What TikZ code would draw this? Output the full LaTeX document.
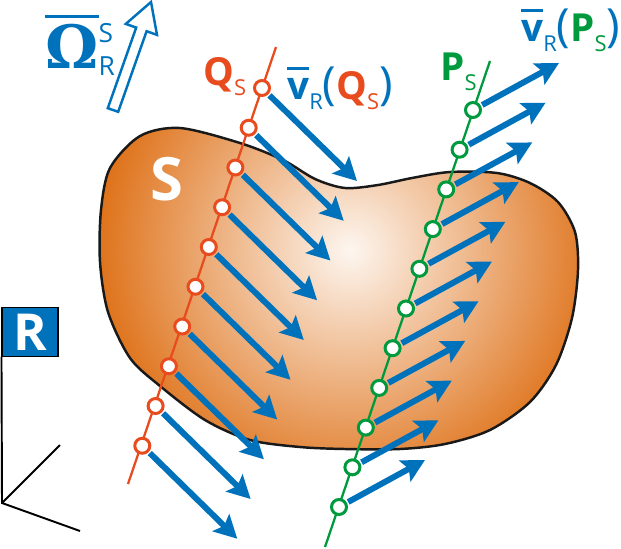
\documentclass[tikz,border=0pt]{standalone}
\usepackage{fontspec}
\setmainfont{Open Sans}
\newfontfamily\greco{DejaVu Serif}
\usepackage{tikz}
\usetikzlibrary{arrows.meta,positioning}
\definecolor{blu}{RGB}{0,114,188}
\definecolor{rosso}{RGB}{232,76,30}
\definecolor{verde}{RGB}{0,154,62}
\definecolor{arancio}{RGB}{221,108,16}
\definecolor{crema}{RGB}{253,246,240}
\newcommand{\barra}[2][4.5pt]{\vbox{\hrule height 1.5pt\kern #1\hbox{#2}}}
\newcommand{\pedice}[1]{\raisebox{-6pt}{\fontsize{12.5}{12.5}\mdseries\selectfont #1}}
\newcommand{\pedapice}[2]{\rlap{\raisebox{14.5pt}{\fontsize{15}{15}\mdseries\selectfont #1}}\raisebox{-4.5pt}{\fontsize{15}{15}\mdseries\selectfont #2}}
\newcommand{\tonde}[1]{{\fontsize{26}{26}\mdseries\selectfont(}#1{\fontsize{26}{26}\mdseries\selectfont)}}
\tikzstyle{punto Q}=[circle, draw=rosso, fill=white, line width=1.7pt, minimum size=0.3cm, inner sep=0pt]
\tikzstyle{punto P}=[circle, draw=verde, fill=white, line width=1.7pt, minimum size=0.3cm, inner sep=0pt]
\tikzstyle{velocita}=[blu, line width=3.4pt, shorten <=0.85pt, -{Stealth[length=13pt, width=13.5pt, inset=2.5pt]}]
\tikzstyle{retta Q}=[rosso, line width=1.3pt]
\tikzstyle{retta P}=[verde, line width=1.3pt]
\tikzstyle{etichetta}=[anchor=base west, inner sep=0pt, font=\bfseries\fontsize{22}{24}\selectfont]
\tikzstyle{asse}=[black, line width=1.1pt]
\tikzstyle{contorno}=[black!90, line width=1.4pt]
\tikzstyle{riferimento}=[draw=black, line width=0.6pt, fill=blu, text=white, minimum width=1.12cm, minimum height=0.9cm, font=\bfseries\fontsize{29}{29}\selectfont]
\begin{document}
\begin{tikzpicture}[x=0.02cm, y=-0.02cm]
    \useasboundingbox (0,0) rectangle (621,548);

    % Corpo rigido S
    \begin{scope}
        \clip plot[smooth cycle] coordinates {(180,128) (240,143) (283,160) (315,179) (345,188) (378,185) (412,178) (450,172) (497,173) (530,183) (558,202) (575,232) (578,270) (572,318) (556,365) (530,402) (490,430) (445,444) (400,449) (345,449) (300,447) (250,440) (205,420) (160,386) (130,358) (108,312) (100,262) (101,210) (110,168) (140,136)};
        \shade[inner color=crema, outer color=arancio] (350,250) circle (265);
    \end{scope}
    \draw[contorno] plot[smooth cycle] coordinates {(180,128) (240,143) (283,160) (315,179) (345,188) (378,185) (412,178) (450,172) (497,173) (530,183) (558,202) (575,232) (578,270) (572,318) (556,365) (530,402) (490,430) (445,444) (400,449) (345,449) (300,447) (250,440) (205,420) (160,386) (130,358) (108,312) (100,262) (101,210) (110,168) (140,136)};
    \node[etichetta, text=white, font=\bfseries\fontsize{34}{34}\selectfont] (slab) at (150,200) {S};

    % Retta dei punti Q_S
    \coordinate (qalto) at (276,47);
    \coordinate (qbasso) at (128,484);
    \draw[retta Q] (qalto) -- (qbasso);
    \foreach \i in {0,...,9} {
        \node[punto Q] (q\i) at ({262-13.3*\i},{88+39.75*\i}) {};
        \coordinate (vq\i) at ({357-13.3*\i},{181+39.75*\i});
        \draw[velocita] (q\i) -- (vq\i);
    }

    % Retta dei punti P_S
    \coordinate (palto) at (490,61);
    \coordinate (pbasso) at (325,547);
    \draw[retta P] (palto) -- (pbasso);
    \foreach \i in {0,...,10} {
        \node[punto P] (p\i) at ({473-13.4*\i},{110+39.7*\i}) {};
        \coordinate (vp\i) at ({559-13.4*\i},{63+39.7*\i});
        \draw[velocita] (p\i) -- (vp\i);
    }

    % Etichette
    \node[etichetta, text=rosso] (qlab) at (203,85) {Q\pedice{S}};
    \node[etichetta, text=blu] (vqlab) at (287,99) {\barra{v}\pedice{R}\tonde{\textcolor{rosso}{Q\pedice{S}}}};
    \node[etichetta, text=verde] (plab) at (440,80) {P\pedice{S}};
    \node[etichetta, text=blu] (vplab) at (521,41) {\barra{v}\pedice{R}\tonde{\textcolor{verde}{P\pedice{S}}}};

    % Velocita angolare
    \draw[blu, line width=1.4pt, fill=white] (107.8,108.2) -- (136.2,27.6) -- (125.8,23.9) -- (151,2) -- (157,34.9) -- (146.6,31.2) -- (118.2,111.8) -- cycle;
    \node[etichetta, text=blu, font=\bfseries\fontsize{34}{34}\selectfont] (omegalab) at (45,68) {\barra[3.5pt]{\greco Ω}\pedapice{S}{R}};

    % Sistema di riferimento
    \node[riferimento] (rbox) at (30,332) {R};
    \coordinate (origine) at (2,503);
    \coordinate (assex) at (80,531);
    \coordinate (assey) at (60,445);
    \draw[asse] (rbox.south west) -- (origine) -- (assex);
    \draw[asse] (origine) -- (assey);
\end{tikzpicture}
\end{document}
